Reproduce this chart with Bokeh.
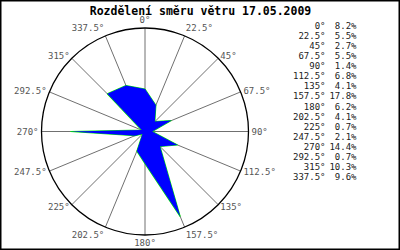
import math
from bokeh.plotting import figure
from bokeh.models import Range1d, ColumnDataSource
from bokeh.core.properties import value
from bokeh.embed import file_html
from bokeh.resources import INLINE

title = "Rozdělení směru větru 17.05.2009"
directions = [0, 22.5, 45, 67.5, 90, 112.5, 135, 157.5, 180, 202.5, 225, 247.5, 270, 292.5, 315, 337.5]
dir_labels = ["0°", "22.5°", "45°", "67.5°", "90°", "112.5°", "135°", "157.5°",
              "180°", "202.5°", "225°", "247.5°", "270°", "292.5°", "315°", "337.5°"]
percent = [8.2, 5.5, 2.7, 5.5, 1.4, 6.8, 4.1, 17.8, 6.2, 4.1, 0.7, 2.1, 14.4, 0.7, 10.3, 9.6]
pct_labels = ["8.2%", "5.5%", "2.7%", "5.5%", "1.4%", "6.8%", "4.1%", "17.8%",
              "6.2%", "4.1%", "0.7%", "2.1%", "14.4%", "0.7%", "10.3%", "9.6%"]
r_max = 20.0

W, H = 400, 250
cx, cy, R = 144.5, 131.0, 103.5
s = R / r_max  # pixels per percent unit

p = figure(width=W, height=H, output_backend="svg", toolbar_location=None,
           x_range=Range1d(-cx / s, (W - cx) / s), y_range=Range1d(-(H - cy) / s, cy / s),
           min_border=0, min_border_left=0, min_border_right=0,
           min_border_top=0, min_border_bottom=0)
p.axis.visible = False
p.grid.visible = False
p.background_fill_color = "white"
p.border_fill_color = "white"
p.outline_line_color = "black"
p.outline_line_width = 2

def px2x(px):
    return (px - cx) / s

def py2y(py):
    return (cy - py) / s

# spokes
th = [math.radians(d) for d in directions]
p.segment(x0=[0] * len(th), y0=[0] * len(th),
          x1=[r_max * math.sin(t) for t in th], y1=[r_max * math.cos(t) for t in th],
          line_color="#707070", line_width=1)

# outer circle
p.circle(x=[0], y=[0], radius=r_max, fill_color=None, line_color="black", line_width=1.3)

# polygon
xs = [v * math.sin(t) for v, t in zip(percent, th)]
ys = [v * math.cos(t) for v, t in zip(percent, th)]
p.line(xs + [xs[0]], ys + [ys[0]], line_color="#00ee00", line_width=1.1)
p.patch(xs, ys, fill_color="#0000ff", line_color=None)

# direction labels
rl = r_max + 3.0 / s
lx, ly, la, lb = [], [], [], []
for d, t in zip(directions, th):
    sx, cs = math.sin(t), math.cos(t)
    lx.append(rl * sx)
    ly.append(rl * cs)
    if abs(sx) < 1e-6:
        la.append("center")
    elif sx > 0:
        la.append("left")
    else:
        la.append("right")
    if cs > 0.8:
        lb.append("bottom")
    elif cs < -0.8:
        lb.append("top")
    else:
        lb.append("middle")
src = ColumnDataSource(dict(x=lx, y=ly, t=dir_labels, a=la, b=lb))
p.text(x="x", y="y", text="t", text_align="a", text_baseline="b", source=src,
       text_font=value("DejaVu Sans Mono"), text_font_size="9px", text_color="#555555")

# table on the right
row0, dy = 25.0, 10.13
rows_y = [py2y(row0 + i * dy) for i in range(len(directions))]
p.text(x=[px2x(325)] * len(rows_y), y=rows_y, text=dir_labels, text_align="right",
       text_baseline="middle", text_font=value("DejaVu Sans Mono"), text_font_size="9px",
       text_color="#222222")
p.text(x=[px2x(356)] * len(rows_y), y=rows_y, text=pct_labels, text_align="right",
       text_baseline="middle", text_font=value("DejaVu Sans Mono"), text_font_size="9px",
       text_color="#222222")

# title
p.text(x=[px2x(200)], y=[py2y(10)], text=[title], text_align="center", text_baseline="middle",
       text_font=value("DejaVu Sans Mono"), text_font_size="11.5px", text_font_style="bold",
       text_color="black")

open("out.html", "w").write(file_html(p, INLINE))
